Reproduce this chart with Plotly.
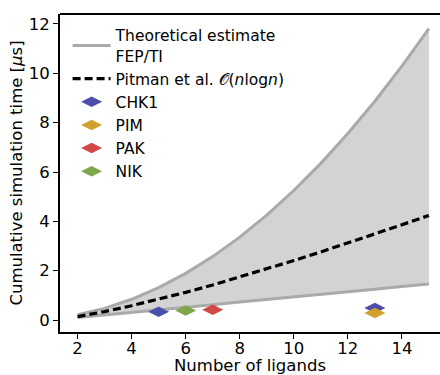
import plotly.graph_objects as go

# Number of ligands in the perturbation map
n_ligands = [2, 3, 4, 5, 6, 7, 8, 9, 10, 11, 12, 13, 14, 15]

# Theoretical FEP/TI cost envelope (µs)
fep_upper = [0.21, 0.47, 0.84, 1.31, 1.89, 2.57, 3.36, 4.25, 5.25, 6.35, 7.56, 8.87, 10.29, 11.81]
fep_lower = [0.10, 0.20, 0.31, 0.41, 0.52, 0.62, 0.73, 0.83, 0.94, 1.04, 1.15, 1.25, 1.36, 1.46]

# Pitman et al. n log n scaling (µs)
pitman = [0.14, 0.34, 0.58, 0.84, 1.12, 1.42, 1.74, 2.07, 2.41, 2.76, 3.12, 3.48, 3.86, 4.24]

# Measured cumulative simulation time per target system
systems = ["CHK1", "PIM", "PAK", "NIK"]
system_n = [[5, 13], [13], [7], [6]]
system_time = [[0.33, 0.49], [0.28], [0.42], [0.39]]
system_colors = ["#4d4dab", "#d2a02c", "#d14848", "#7ea64b"]

FONT = "DejaVu Sans"
FS = 16.5

fig = go.Figure()

# shaded band between the two estimates
fig.add_trace(go.Scatter(x=n_ligands, y=fep_lower, mode="lines",
                         line=dict(width=0), showlegend=False, hoverinfo="skip"))
fig.add_trace(go.Scatter(x=n_ligands, y=fep_upper, mode="lines", fill="tonexty",
                         fillcolor="#d3d3d3", line=dict(width=0),
                         showlegend=False, hoverinfo="skip"))

# envelope boundary lines
fig.add_trace(go.Scatter(x=n_ligands, y=fep_upper, mode="lines",
                         line=dict(color="#aaaaaa", width=3),
                         name="Theoretical estimate<br>FEP/TI"))
fig.add_trace(go.Scatter(x=n_ligands, y=fep_lower, mode="lines",
                         line=dict(color="#aaaaaa", width=3), showlegend=False))

# n log n reference
fig.add_trace(go.Scatter(x=n_ligands, y=pitman, mode="lines",
                         line=dict(color="black", width=3.2, dash="8px,4px"),
                         name="Pitman et al. 𝒪(<i>n</i>log<i>n</i>)"))

for name, xs, ys, col in zip(systems, system_n, system_time, system_colors):
    fig.add_trace(go.Scatter(x=xs, y=ys, mode="markers", name=name,
                             marker=dict(symbol="diamond-wide", size=15, color=col,
                                         line=dict(width=0))))

fig.update_layout(
    width=440, height=375,
    margin=dict(l=60, r=0, t=14, b=43),
    paper_bgcolor="white", plot_bgcolor="white",
    font=dict(family=FONT, size=FS, color="black"),
    showlegend=True,
    legend=dict(x=0.02, y=0.985, xanchor="left", yanchor="top",
                traceorder="normal",
                bgcolor="rgba(0,0,0,0)", borderwidth=0, itemwidth=38,
                tracegroupgap=0, font=dict(family=FONT, size=15.5)),
    xaxis=dict(range=[1.35, 15.41], tickvals=[2, 4, 6, 8, 10, 12, 14],
               automargin=False,
               showgrid=False, zeroline=False, showline=True, linecolor="black",
               linewidth=1.8, ticks="outside", ticklen=5, tickwidth=1.2,
               tickcolor="black", tickfont=dict(size=FS), ticklabelstandoff=-5,
               title=dict(text="Number of ligands", font=dict(size=FS), standoff=13)),
    yaxis=dict(range=[-0.486, 12.405], tickvals=[0, 2, 4, 6, 8, 10, 12],
               automargin=False,
               showgrid=False, zeroline=False, showline=True, linecolor="black",
               linewidth=1.8, ticks="outside", ticklen=5, tickwidth=1.2,
               tickcolor="black", tickfont=dict(size=FS),
               title=dict(text="Cumulative simulation time [<i>μ</i>s]",
                          font=dict(size=FS), standoff=2)),
    shapes=[dict(type="line", xref="paper", yref="paper", x0=0, x1=1, y0=1, y1=1,
                 line=dict(color="black", width=1.8))],
)

fig.write_html("out.html")
